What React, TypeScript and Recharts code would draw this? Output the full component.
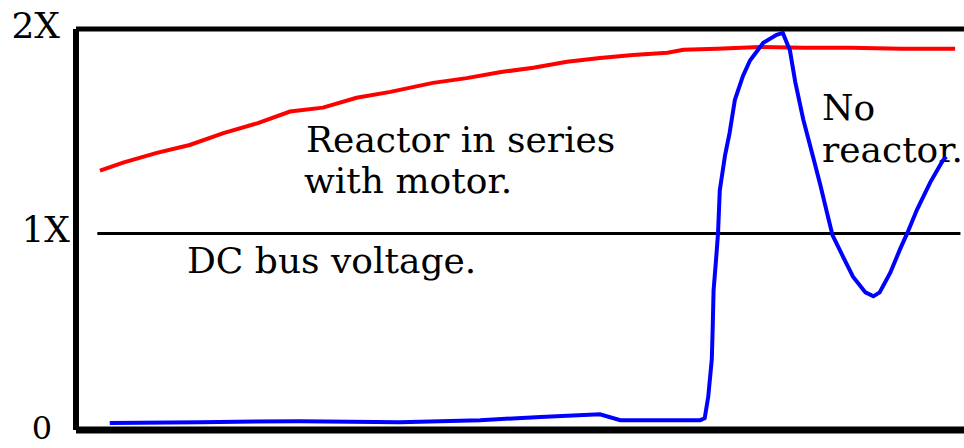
import React from 'react';
import { LineChart, Line, XAxis, YAxis, ReferenceLine, Customized } from 'recharts';

// Series with reactor in series with motor (red)
const reactorT = [2.7, 5.3, 9.1, 12.8, 16.6, 20.4, 24.1, 27.8, 31.6, 35.4, 40.2, 44.0, 47.7, 51.5, 55.3, 59.0, 62.7, 66.6, 68.4, 72.2, 77.0, 82.0, 87.2, 93.0, 99.0];
const reactorV = [1.32, 1.36, 1.41, 1.45, 1.51, 1.56, 1.62, 1.64, 1.69, 1.72, 1.766, 1.79, 1.82, 1.843, 1.873, 1.893, 1.908, 1.919, 1.934, 1.939, 1.949, 1.945, 1.944, 1.94, 1.939];

// Series with no reactor (blue)
const noReactorT = [3.8, 14.0, 25.2, 36.5, 45.5, 52.3, 59.0, 61.3, 70.3, 70.8, 71.2, 71.6, 71.7, 71.8, 72.1, 72.3, 72.5, 73.1, 73.6, 74.2, 75.1, 75.9, 77.4, 78.9, 79.6, 80.4, 81.0, 81.9, 83.0, 83.8, 84.6, 85.2, 86.4, 87.5, 88.9, 89.8, 90.5, 91.7, 92.8, 93.6, 94.7, 96.2, 97.6, 98.0];
const noReactorV = [0.035, 0.04, 0.045, 0.04, 0.05, 0.066, 0.08, 0.05, 0.05, 0.06, 0.17, 0.36, 0.52, 0.71, 0.88, 1.0, 1.22, 1.4, 1.51, 1.68, 1.8, 1.88, 1.97, 2.01, 2.02, 1.93, 1.77, 1.58, 1.39, 1.25, 1.1, 0.99, 0.88, 0.78, 0.7, 0.68, 0.7, 0.8, 0.92, 1.0, 1.12, 1.26, 1.37, 1.39];

const yTicks = [0, 1, 2];
const yTickLabels = ['0', '1X', '2X'];
const yMax = 2.04;
const busVoltage = 1;

const reactorData = reactorT.map((t, i) => ({ t, v: reactorV[i] }));
const noReactorData = noReactorT.map((t, i) => ({ t, v: noReactorV[i] }));

const FONT = '"DejaVu Serif", serif';

const tickOffsets: Record<number, { x: number; dy: number; size: number }> = {
  0: { x: 52, dy: 9, size: 32 },
  1: { x: 70, dy: 8.5, size: 36 },
  2: { x: 60, dy: 1, size: 36 },
};

const YTick = (props: any) => {
  const { y, payload } = props;
  const idx = yTicks.indexOf(payload.value);
  const o = tickOffsets[payload.value];
  return (
    <text x={o.x} y={y + o.dy} textAnchor="end" fontFamily={FONT} fontSize={o.size} fill="#000">
      {yTickLabels[idx]}
    </text>
  );
};

const Notes = () => (
  <g fontFamily={FONT} fontSize={36} fill="#000">
    <text x={306} y={152}>Reactor in series</text>
    <text x={304} y={193}>with motor.</text>
    <text x={187} y={273}>DC bus voltage.</text>
    <text x={822} y={120}>No</text>
    <text x={822} y={162}>reactor.</text>
  </g>
);

export default function App() {
  return (
    <div style={{ position: 'absolute', left: 0, top: 0, background: '#fff' }}>
      <LineChart width={964} height={448} margin={{ top: 29, right: 0, bottom: 18, left: 0 }}>
        <XAxis type="number" dataKey="t" domain={[0, 100]} hide allowDataOverflow />
        <YAxis
          type="number"
          domain={[0, yMax]}
          ticks={yTicks}
          width={76}
          axisLine={false}
          tickLine={false}
          tick={<YTick />}
          allowDataOverflow
        />
        <ReferenceLine y={yMax} stroke="#000" strokeWidth={5} ifOverflow="extendDomain" />
        <ReferenceLine y={0} stroke="#000" strokeWidth={7} />
        <ReferenceLine x={0} stroke="#000" strokeWidth={6} />
        <ReferenceLine
          segment={[{ x: 2.4, y: busVoltage }, { x: 99.6, y: busVoltage }]}
          stroke="#000"
          strokeWidth={3}
        />
        <Line
          data={reactorData}
          dataKey="v"
          type="linear"
          stroke="#ff0000"
          strokeWidth={4}
          dot={false}
          isAnimationActive={false}
        />
        <Line
          data={noReactorData}
          dataKey="v"
          type="linear"
          stroke="#0000ff"
          strokeWidth={4}
          dot={false}
          isAnimationActive={false}
        />
        <Customized component={Notes} />
      </LineChart>
    </div>
  );
}
